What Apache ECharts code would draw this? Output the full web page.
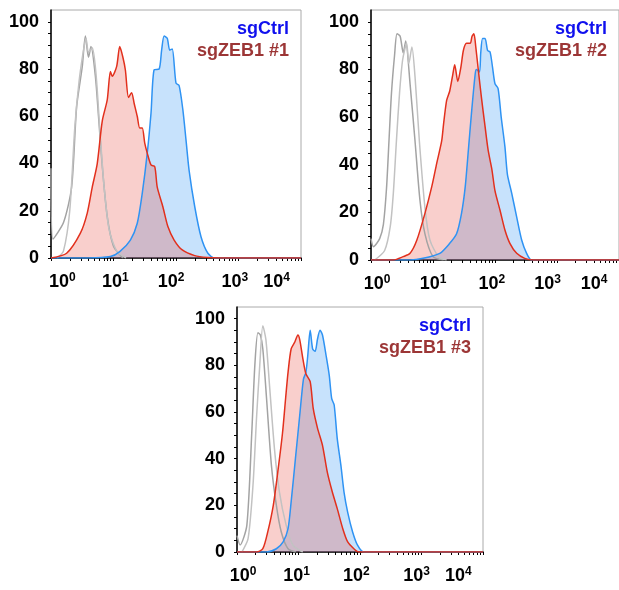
<!DOCTYPE html>
<html>
<head>
<meta charset="utf-8">
<title>ZEB1 flow histograms</title>
<script src="https://cdn.jsdelivr.net/npm/echarts@6/dist/echarts.min.js"></script>
<style>
  html, body { margin: 0; padding: 0; background: #fff; }
  #chart { width: 619px; height: 590px; }
</style>
</head>
<body>
<div id="chart"></div>
<script>
// x = log10 fluorescence, y = % of max
const decadeExps = ['0', '1', '2', '3', '4']
const yTickLabels = [0, 20, 40, 60, 80, 100]
const legendNames = ['sgCtrl', 'sgZEB1 #1', 'sgZEB1 #2', 'sgZEB1 #3']

// panel 1
const p1Iso1 = [[0, 38], [0.03, 8], [0.2, 15], [0.33, 30], [0.41, 64], [0.5, 81], [0.55, 94], [0.6, 85], [0.64, 89.5], [0.71, 77], [0.76, 60], [0.82, 39], [0.9, 17.5], [1.0, 5], [1.15, 0]]
const p1Iso2 = [[0.1, 0], [0.2, 3], [0.3, 20], [0.38, 55], [0.45, 75], [0.52, 88], [0.56, 93], [0.6, 87], [0.66, 89], [0.72, 78], [0.78, 55], [0.85, 30], [0.93, 12], [1.05, 3], [1.2, 0]]
const p1Ctrl = [[0, 0], [0.6, 0], [0.95, 0.6], [1.1, 2.7], [1.27, 7.6], [1.38, 14.7], [1.46, 27.4], [1.54, 44.4], [1.6, 61.3], [1.65, 79.7], [1.73, 80], [1.77, 88], [1.81, 94], [1.86, 93], [1.9, 88], [1.94, 88.5], [2.0, 74], [2.05, 73], [2.11, 62.7], [2.16, 50], [2.21, 37], [2.3, 21.7], [2.4, 9], [2.51, 2], [2.62, 0], [4, 0]]
const p1Zeb = [[0, 0], [0.25, 2], [0.47, 10.5], [0.58, 19], [0.66, 30], [0.74, 40], [0.82, 58], [0.9, 67], [0.95, 79], [0.98, 77], [1.05, 81], [1.1, 89.5], [1.15, 85], [1.19, 79.6], [1.24, 68], [1.29, 70], [1.33, 65.5], [1.38, 60], [1.42, 55], [1.46, 55], [1.5, 48.6], [1.54, 44.4], [1.6, 39.4], [1.66, 38.7], [1.7, 30], [1.79, 21.7], [1.87, 13.3], [1.97, 7.6], [2.1, 3.4], [2.3, 1], [2.5, 0.2], [2.7, 0], [4, 0]]

// panel 2
const p2Iso1 = [[0, 9], [0.04, 5.6], [0.14, 9], [0.2, 15], [0.25, 30], [0.29, 50], [0.33, 70], [0.38, 86], [0.42, 95], [0.47, 94], [0.52, 87], [0.56, 92], [0.63, 74], [0.71, 50], [0.79, 25], [0.87, 11], [1.0, 1.4], [1.17, 0]]
const p2Iso2 = [[0.06, 0], [0.22, 4], [0.31, 14], [0.36, 28], [0.41, 50], [0.46, 70], [0.51, 84], [0.575, 91], [0.61, 82.5], [0.66, 89.5], [0.71, 77], [0.78, 50], [0.87, 22], [0.95, 8.4], [1.09, 1.4], [1.22, 0]]
const p2Ctrl = [[0, 0], [0.63, 0], [0.84, 0.7], [1.11, 2.8], [1.27, 7], [1.38, 11], [1.46, 19.6], [1.52, 30.8], [1.57, 46], [1.62, 61.5], [1.68, 78], [1.7, 80], [1.75, 79], [1.77, 87], [1.8, 93], [1.84, 93], [1.88, 88], [1.92, 87.4], [1.96, 81], [2.0, 74], [2.05, 72], [2.1, 60], [2.16, 47.6], [2.2, 36], [2.27, 28], [2.35, 18], [2.43, 8.4], [2.51, 2.8], [2.59, 0], [4, 0]]
const p2Zeb = [[0, 0], [0.36, 0], [0.52, 1.4], [0.63, 2.8], [0.74, 8.4], [0.87, 19.6], [0.98, 30.8], [1.06, 40.6], [1.14, 50], [1.17, 57], [1.22, 67], [1.27, 71], [1.32, 78], [1.35, 82], [1.4, 75], [1.45, 81], [1.49, 88], [1.54, 91], [1.6, 91], [1.63, 94], [1.66, 95], [1.69, 89.5], [1.73, 80], [1.78, 68.5], [1.84, 56], [1.89, 46], [1.95, 38], [2.0, 29], [2.08, 21], [2.16, 12.6], [2.24, 7], [2.35, 2.8], [2.48, 0.7], [2.62, 0], [4, 0]]

// panel 3
const p3Iso1 = [[0, 7], [0.05, 3], [0.16, 11.4], [0.24, 51], [0.29, 80], [0.34, 94], [0.38, 93], [0.42, 87], [0.48, 66], [0.56, 37], [0.64, 20], [0.72, 8.6], [0.83, 1.4], [0.96, 0]]
const p3Iso2 = [[0.08, 0], [0.18, 5.7], [0.26, 28.6], [0.32, 58.6], [0.37, 80], [0.42, 97], [0.47, 91], [0.53, 71], [0.61, 44], [0.69, 25.7], [0.8, 11.4], [0.91, 2.9], [1.07, 0]]
const p3Ctrl = [[0, 0], [0.48, 0], [0.64, 1.4], [0.75, 4.3], [0.83, 10], [0.88, 21.4], [0.95, 40], [1.02, 58.6], [1.08, 74], [1.12, 77], [1.15, 84], [1.19, 95], [1.23, 87], [1.27, 86], [1.31, 91.4], [1.35, 95], [1.39, 93], [1.45, 84], [1.5, 75.7], [1.54, 65.7], [1.58, 63], [1.63, 48.6], [1.69, 37], [1.74, 25.7], [1.8, 17], [1.88, 8.6], [1.96, 2.9], [2.06, 0], [4, 0]]
const p3Zeb = [[0, 0], [0.32, 0], [0.42, 1.4], [0.5, 8.6], [0.59, 20], [0.67, 35.7], [0.74, 51], [0.79, 65.7], [0.83, 77], [0.88, 87], [0.94, 90], [0.99, 93], [1.02, 91], [1.07, 83], [1.12, 76.4], [1.19, 73], [1.24, 61.4], [1.31, 53], [1.39, 45.7], [1.47, 34], [1.55, 25.7], [1.63, 18.6], [1.72, 10], [1.8, 4.3], [1.9, 1.4], [1.98, 0], [4, 0]]

const panels = [
  { iso: [p1Iso1, p1Iso2], ctrl: p1Ctrl, zeb: p1Zeb, name: legendNames[1], grid: { left: 51, top: 10, width: 250, height: 248 }, labelAt: [0.18, 1.03, 1.92, 2.94, 3.61] },
  { iso: [p2Iso1, p2Iso2], ctrl: p2Ctrl, zeb: p2Zeb, name: legendNames[2], grid: { left: 371, top: 10, width: 248, height: 250 }, labelAt: [0.1, 1.0, 1.95, 2.85, 3.6] },
  { iso: [p3Iso1, p3Iso2], ctrl: p3Ctrl, zeb: p3Zeb, name: legendNames[3], grid: { left: 237, top: 307, width: 246, height: 245 }, labelAt: [0.1, 0.97, 1.94, 2.92, 3.6] }
]

// log minor ticks
const xTicks = []
for (let d = 0; d < 4; d++) {
  for (let k = 1; k < 10; k++) xTicks.push(d + Math.log10(k))
}
xTicks.push(4)
const yTicks = []
for (let v = 0; v <= 100; v += 5) yTicks.push(v)

const font = 'Liberation Sans'
const blue = '#2f93f3'
const red = '#e2301d'

const grids = []
const xAxes = []
const yAxes = []
const series = []
const graphics = []

panels.forEach((p, i) => {
  grids.push(Object.assign({ show: true, borderColor: '#aaa', borderWidth: 1, outerBoundsMode: 'none', containLabel: false }, p.grid))
  xAxes.push({
    gridIndex: i,
    type: 'value',
    min: 0,
    max: 4,
    axisLine: { onZero: false, lineStyle: { color: '#000', width: 1.5 } },
    axisTick: { customValues: xTicks, length: 3, lineStyle: { color: '#000' } },
    axisLabel: {
      customValues: p.labelAt,
      margin: 14,
      formatter: (v) => '{b|10}{s|' + decadeExps[p.labelAt.indexOf(v)] + '}',
      rich: {
        b: { fontFamily: font, fontWeight: 'bold', fontSize: 18, color: '#000', lineHeight: 20 },
        s: { fontFamily: font, fontWeight: 'bold', fontSize: 12, color: '#000', lineHeight: 20, verticalAlign: 'top', padding: [0, 0, 7, 0] }
      }
    },
    splitLine: { show: false }
  })
  yAxes.push({
    gridIndex: i,
    type: 'value',
    min: 0,
    max: 105,
    axisLine: { show: true, lineStyle: { color: '#000', width: 1.5 } },
    axisTick: { show: true, customValues: yTicks, length: 3, lineStyle: { color: '#000' } },
    axisLabel: { customValues: yTickLabels, margin: 12, fontFamily: font, fontWeight: 'bold', fontSize: 18, color: '#000' },
    splitLine: { show: false }
  })
  const base = { type: 'line', xAxisIndex: i, yAxisIndex: i, showSymbol: false, smooth: 0.25, animation: false }
  series.push(Object.assign({}, base, { name: 'iso', data: p.iso[0], lineStyle: { color: '#a3a3a3', width: 1.5 } }))
  series.push(Object.assign({}, base, { name: 'iso', data: p.iso[1], lineStyle: { color: '#c2c2c2', width: 1.5 } }))
  series.push(Object.assign({}, base, { name: legendNames[0], data: p.ctrl, lineStyle: { color: blue, width: 1.5 }, areaStyle: { color: blue, opacity: 0.27 } }))
  series.push(Object.assign({}, base, { name: p.name, data: p.zeb, lineStyle: { color: red, width: 1.5 }, areaStyle: { color: '#e8473a', opacity: 0.26 } }))

  const right = p.grid.left + p.grid.width - 12
  graphics.push({ type: 'text', x: right, y: p.grid.top + 19, style: { text: legendNames[0], align: 'right', verticalAlign: 'middle', font: 'bold 18px "Liberation Sans"', fill: '#1010ee' } })
  graphics.push({ type: 'text', x: right, y: p.grid.top + 41, style: { text: p.name, align: 'right', verticalAlign: 'middle', font: 'bold 18px "Liberation Sans"', fill: '#9c3636' } })
})

const myChart = echarts.init(document.getElementById('chart'))
myChart.setOption({
  animation: false,
  grid: grids,
  xAxis: xAxes,
  yAxis: yAxes,
  series: series,
  graphic: graphics
})
</script>
</body>
</html>
